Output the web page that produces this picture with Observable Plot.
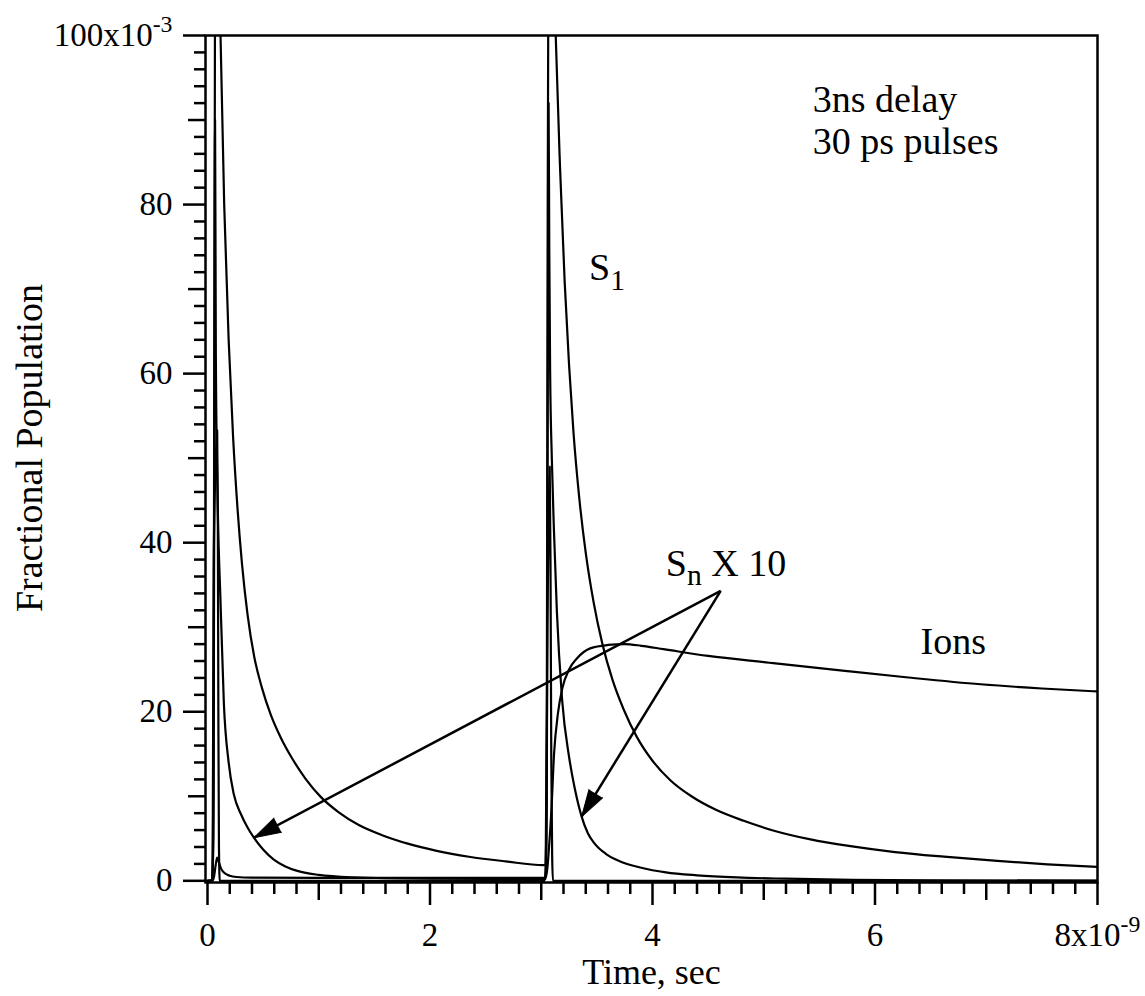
<!DOCTYPE html>
<html>
<head>
<meta charset="utf-8">
<script src="https://cdn.jsdelivr.net/npm/d3@7"></script>
<script src="https://cdn.jsdelivr.net/npm/@observablehq/plot@0.6"></script>
<style>
  html, body { margin: 0; padding: 0; background: #fff; }
  #chart svg { display: block; }
</style>
</head>
<body>
<div id="chart"></div>
<script>
// ---------- data: time in ns (axis ×10^-9 s), population in units of 10^-3 ----------
const s1Time  = [0, 0.045, 0.055, 0.062, 0.068, 0.072, 0.09, 0.117, 0.15, 0.19, 0.23, 0.27, 0.31, 0.36, 0.42, 0.49, 0.57, 0.66, 0.76, 0.88, 1.02, 1.18, 1.36, 1.57, 1.8, 2.06, 2.35, 2.68, 3.02,
                 3.04, 3.05, 3.058, 3.066, 3.072, 3.09, 3.13, 3.17, 3.21, 3.25, 3.29, 3.34, 3.40, 3.47, 3.55, 3.64, 3.74, 3.86, 4.0, 4.16, 4.35, 4.57, 4.82, 5.1, 5.42, 5.78, 6.18, 6.62, 7.1, 7.55, 8.0];
const s1Value = [0, 0.1, 10, 60, 110, 135, 122, 100, 80, 64, 52.5, 44, 37.5, 31.5, 26.5, 22.8, 19.6, 16.9, 14.5, 12.1, 9.9, 8.1, 6.6, 5.4, 4.4, 3.55, 2.85, 2.3, 1.85,
                 2, 20, 80, 115, 135, 124, 100, 84, 71, 61, 53, 45.5, 38.8, 33.0, 28.0, 23.8, 20.3, 17.0, 14.2, 11.9, 10.0, 8.4, 7.1, 5.9, 4.9, 4.1, 3.4, 2.85, 2.35, 1.95, 1.65];

const snTime  = [0, 0.045, 0.052, 0.058, 0.064, 0.068, 0.075, 0.09, 0.117, 0.147, 0.19, 0.237, 0.3, 0.36, 0.417, 0.5, 0.596, 0.7, 0.8, 1.0, 1.3, 2.0, 3.0,
                 3.04, 3.05, 3.058, 3.066, 3.072, 3.08, 3.095, 3.114, 3.14, 3.187, 3.252, 3.3, 3.363, 3.42, 3.48, 3.58, 3.7, 3.9, 4.12, 4.4, 4.76, 5.2, 5.8, 6.5, 8.0];
const snValue = [0, 0.1, 5, 40, 80, 90, 62, 46, 33, 21, 14, 10.2, 7.9, 6.3, 5.1, 3.7, 2.5, 1.7, 1.2, 0.7, 0.42, 0.25, 0.2,
                 0.2, 10, 55, 92, 75, 60, 50, 41.5, 32, 21.5, 14.5, 11, 7.6, 5.6, 4.4, 3.2, 2.35, 1.55, 1.0, 0.65, 0.4, 0.25, 0.12, 0.06, 0.02];

const ionsTime  = [0, 0.045, 0.06, 0.075, 0.087, 0.1, 0.12, 0.15, 0.2, 0.26, 0.4, 1.0, 2.0, 3.04, 3.055, 3.07, 3.09, 3.115, 3.15, 3.19, 3.25, 3.32, 3.44, 3.6, 3.75, 3.9, 4.1, 4.5, 5.05, 5.75, 6.3, 6.95, 7.5, 8.0];
const ionsValue = [0, 0, 0.6, 2.0, 2.75, 2.3, 1.5, 0.95, 0.6, 0.45, 0.38, 0.35, 0.35, 0.35, 1.5, 4, 8, 15, 19.8, 22.8, 25, 26.3, 27.5, 27.9, 28.0, 27.8, 27.4, 26.6, 25.8, 24.8, 24.05, 23.25, 22.75, 22.4];

const pulseTime  = [0, 0.04, 0.048, 0.056, 0.07, 0.087, 0.093, 0.098, 0.103, 0.11, 3.03, 3.045, 3.055, 3.068, 3.076, 3.083, 3.09, 3.098, 3.105, 8.0];
const pulseValue = [0, 0, 8, 38, 48, 53.3, 42, 18, 4, 0, 0, 5, 30, 44, 49, 38, 15, 3, 0, 0];

// axis ticks and labels
const xMajorTicks  = [0, 2, 4, 6, 8];
const xTickLabels  = ["0", "2", "4", "6", "8x10^-9"];
const xMediumTicks = [1, 3, 5, 7];
const xMinorTicks  = d3.range(0, 8.0001, 0.2).filter(v => Math.abs(v - Math.round(v)) > 1e-6);
const yMajorTicks  = [0, 20, 40, 60, 80, 100];
const yTickLabels  = ["0", "20", "40", "60", "80", "100x10^-3"];
const yMediumTicks = [10, 30, 50, 70, 90];
const yMinorTicks  = d3.range(2, 100, 2).filter(v => v % 10 !== 0);

// annotations (text anchored at data positions)
const noteText  = ["3ns delay", "30 ps pulses", "S_1", "S_n X 10", "Ions"];
const noteTime  = [5.44, 5.44, 3.43, 4.12, 6.41];
const noteValue = [92.4, 87.4, 72.5, 37.5, 28.3];

// arrows "S_n X 10" -> points on the S_n curve
const arrowFromTime  = 4.613;
const arrowFromValue = 34.3;
const arrowToTime    = [0.417, 3.363];
const arrowToValue   = [5.1, 7.6];

// ---------- build ----------
const W = 1145, H = 996;
const M = {top: 35, right: 48, bottom: 114, left: 205};
const xDomain = [-0.018, 8];
const yDomain = [-0.2, 100];

const seriesList = [
  {name: "S1", t: s1Time, v: s1Value},
  {name: "Sn", t: snTime, v: snValue},
  {name: "Ions", t: ionsTime, v: ionsValue},
  {name: "Pulse", t: pulseTime, v: pulseValue}
];
const rows = seriesList.flatMap(s => s.t.map((t, i) => ({series: s.name, t, v: s.v[i]})));
const notes = noteText.map((text, i) => ({text, t: noteTime[i], v: noteValue[i]}));

const xs = Plot.scale({x: {domain: xDomain, range: [M.left, W - M.right]}});
const ys = Plot.scale({y: {domain: yDomain, range: [H - M.bottom, M.top]}});
const arrows = arrowToTime.map((t, i) => {
  const dx = xs.apply(t) - xs.apply(arrowFromTime);
  const dy = ys.apply(arrowToValue[i]) - ys.apply(arrowFromValue);
  return {t0: arrowFromTime, v0: arrowFromValue, t1: t, v1: arrowToValue[i],
          angle: Math.atan2(dx, -dy) * 180 / Math.PI};
});

const font = "'Liberation Serif', 'Times New Roman', serif";

const chart = Plot.plot({
  width: W, height: H,
  marginTop: M.top, marginRight: M.right, marginBottom: M.bottom, marginLeft: M.left,
  x: {domain: xDomain, label: null},
  y: {domain: yDomain, label: null},
  style: {fontFamily: font, fontSize: "33px", color: "black", background: "white", overflow: "visible"},
  marks: [
    Plot.axisX({ticks: xMinorTicks, tickSize: 12, strokeWidth: 2.5, fill: "none", label: null}),
    Plot.axisX({ticks: xMediumTicks, tickSize: 18, strokeWidth: 2.5, fill: "none", label: null}),
    Plot.axisX({ticks: xMajorTicks, tickSize: 23, tickPadding: 17, strokeWidth: 2.5, label: null,
      tickFormat: d => xTickLabels[xMajorTicks.indexOf(d)]}),
    Plot.axisY({ticks: yMinorTicks, tickSize: 11, strokeWidth: 2.5, fill: "none", label: null}),
    Plot.axisY({ticks: yMediumTicks, tickSize: 17, strokeWidth: 2.5, fill: "none", label: null}),
    Plot.axisY({ticks: yMajorTicks, tickSize: 22, tickPadding: 11, strokeWidth: 2.5, label: null,
      tickFormat: d => yTickLabels[yMajorTicks.indexOf(d)]}),
    Plot.line(rows, {x: "t", y: "v", z: "series", curve: "monotone-x", stroke: "black",
      strokeWidth: 2.2, clip: true}),
    Plot.link(arrows, {x1: "t0", y1: "v0", x2: "t1", y2: "v1", stroke: "black", strokeWidth: 2.5}),
    Plot.vector(arrows, {x: "t1", y: "v1", rotate: "angle", length: 27, r: 8, shape: "spike",
      anchor: "end", fill: "black", fillOpacity: 1, stroke: "black", strokeWidth: 1}),
    Plot.text(notes, {x: "t", y: "v", text: "text", textAnchor: "start", fontSize: 38, fill: "black"}),
    Plot.text(["Time, sec"], {frameAnchor: "bottom", textAnchor: "middle", dy: 101, fontSize: 36, fill: "black"}),
    Plot.text(["Fractional Population"], {frameAnchor: "left", textAnchor: "middle", rotate: -90, dx: -176, dy: -11,
      fontSize: 38, fill: "black"}),
    Plot.frame({stroke: "black", strokeWidth: 2.5})
  ]
});

document.getElementById("chart").append(chart);

// rich text: "_x" -> subscript, "^x" -> superscript (kept as real text)
const NS = "http://www.w3.org/2000/svg";
chart.querySelectorAll("text, tspan").forEach(el => {
  if (el.childNodes.length !== 1 || el.firstChild.nodeType !== 3) return;
  const m = el.textContent.match(/^(.*?)([_^])(\S+)(.*)$/);
  if (!m) return;
  const [, base, kind, small, rest] = m;
  const fs = parseFloat(getComputedStyle(el).fontSize) || 33;
  const shift = kind === "_" ? 0.25 * fs : -0.42 * fs;
  el.textContent = base;
  const t1 = document.createElementNS(NS, "tspan");
  t1.setAttribute("dy", shift);
  t1.setAttribute("font-size", (kind === "_" ? 0.78 : 0.72) * fs);
  t1.textContent = small;
  el.appendChild(t1);
  if (rest) {
    const t2 = document.createElementNS(NS, "tspan");
    t2.setAttribute("dy", -shift);
    t2.textContent = rest;
    el.appendChild(t2);
  }
});
</script>
</body>
</html>
